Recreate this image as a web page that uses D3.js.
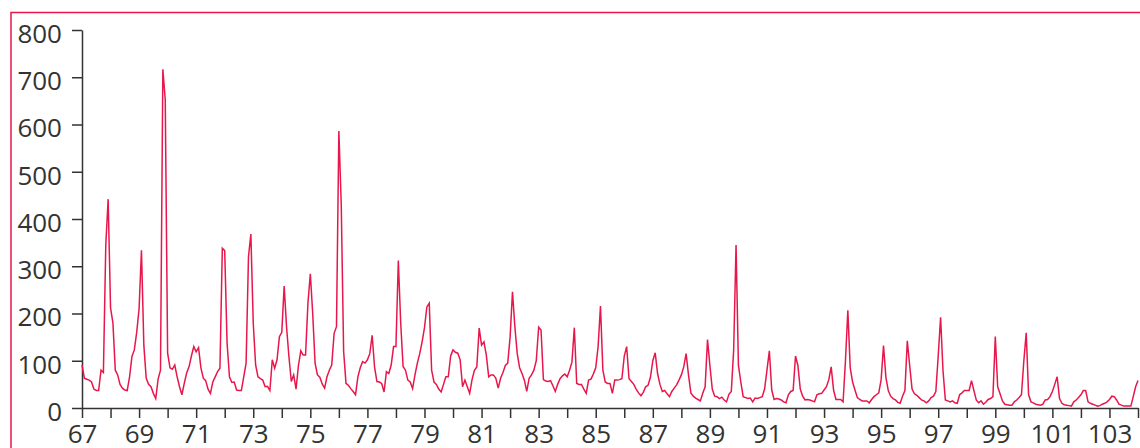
<!DOCTYPE html>
<html>
<head>
<meta charset="utf-8">
<style>
  html, body { margin: 0; padding: 0; background: #fff; }
  svg { display: block; }
  .axis text { font-family: "Open Sans", sans-serif; font-size: 26px; fill: #333; }
  .axis path, .axis line { stroke: #333; stroke-width: 1.5; }
</style>
<script src="https://cdn.jsdelivr.net/npm/d3@7"></script>
</head>
<body>
<svg id="chart" width="1140" height="448"></svg>
<script>
// monthly values, first point at year 67.0
const startYear = 67;
const monthsPerYear = 12;

const counts67to76 = [
  91, 63, 61, 59, 55, 40, 37, 37, 80, 75, 345, 442,
  212, 180, 80, 70, 50, 42, 38, 37, 66, 109, 123, 160,
  210, 334, 133, 63, 50, 45, 31, 20, 61, 80, 717, 652,
  116, 85, 82, 91, 66, 45, 28, 52, 74, 87, 110, 130,
  119, 128, 85, 63, 58, 40, 31, 55, 66, 77, 84, 338,
  333, 137, 66, 54, 55, 38, 37, 37, 66, 95, 320, 368,
  180, 91, 66, 62, 59, 45, 46, 37, 102, 84, 102, 151,
  160, 258, 172, 109, 56, 70, 40, 90, 121, 112, 112, 222,
  284, 200, 95, 70, 65, 51, 42, 66, 80, 91, 158, 172,
  586, 430, 120, 52, 48, 41, 35, 28, 66, 85, 98, 95
];
const counts77to86 = [
  102, 115, 154, 87, 56, 55, 52, 34, 77, 73, 91, 130,
  130, 312, 180, 88, 80, 59, 55, 41, 70, 95, 115, 140,
  170, 214, 222, 80, 55, 50, 40, 34, 50, 66, 66, 110,
  123, 118, 116, 102, 45, 59, 45, 31, 60, 80, 87, 169,
  133, 140, 112, 66, 70, 70, 63, 42, 63, 75, 90, 95,
  150, 246, 172, 115, 85, 73, 59, 35, 63, 70, 80, 100,
  171, 165, 60, 57, 56, 58, 47, 35, 50, 62, 68, 72,
  66, 80, 97, 170, 52, 50, 50, 40, 31, 59, 61, 72,
  85, 130, 216, 80, 55, 52, 52, 31, 59, 59, 60, 62,
  110, 130, 62, 56, 50, 40, 32, 26, 33, 45, 48, 65
];
const counts87to96 = [
  100, 117, 73, 50, 35, 37, 30, 24, 35, 42, 49, 59,
  70, 87, 115, 70, 32, 25, 21, 18, 15, 31, 45, 145,
  90, 40, 25, 24, 20, 23, 17, 13, 29, 35, 123, 345,
  90, 55, 24, 22, 20, 21, 13, 21, 20, 22, 24, 40,
  80, 121, 38, 18, 20, 19, 17, 13, 11, 28, 35, 37,
  110, 90, 40, 25, 17, 18, 17, 15, 13, 28, 30, 31,
  38, 45, 60, 87, 38, 18, 18, 18, 13, 100, 207, 85,
  55, 38, 22, 18, 15, 15, 15, 11, 18, 24, 28, 32,
  60, 132, 65, 37, 25, 20, 17, 12, 10, 25, 37, 142,
  90, 40, 30, 27, 22, 17, 15, 11, 15, 22, 25, 35
];
const counts97to104 = [
  110, 192, 80, 17, 15, 13, 15, 11, 10, 28, 32, 37,
  37, 37, 58, 37, 17, 11, 15, 8, 12, 18, 20, 24,
  151, 45, 30, 15, 8, 7, 6, 6, 13, 17, 22, 28,
  100, 159, 28, 13, 11, 8, 7, 6, 8, 17, 18, 24,
  35, 50, 66, 20, 10, 7, 6, 5, 4, 13, 17, 22,
  28, 37, 37, 13, 10, 8, 6, 4, 5, 8, 10, 13,
  18, 25, 24, 17, 8, 6, 4, 4, 4, 4, 24, 45,
  58
];

const tickYears = [67, 68, 69, 70, 71, 72, 73, 74, 75, 76, 77, 78, 79, 80, 81, 82, 83, 84, 85,
  86, 87, 88, 89, 90, 91, 92, 93, 94, 95, 96, 97, 98, 99, 100, 101, 102, 103, 104];
const labelYears = [67, 69, 71, 73, 75, 77, 79, 81, 83, 85, 87, 89, 91, 93, 95, 97, 99, 101, 103];
const yTicks = [0, 100, 200, 300, 400, 500, 600, 700, 800];

const values = counts67to76.concat(counts77to86, counts87to96, counts97to104);

const red = "#e8174b";
const svg = d3.select("#chart");

svg.append("rect")
  .attr("x", 11)
  .attr("y", 12.5)
  .attr("width", 1300)
  .attr("height", 600)
  .attr("fill", "none")
  .attr("stroke", red)
  .attr("stroke-width", 1.5);

const x = d3.scaleLinear().domain([67, 104]).range([0, 1056]);
const y = d3.scaleLinear().domain([0, 800]).range([378, 0]);

const g = svg.append("g").attr("transform", "translate(82,30)");

g.append("g")
  .attr("class", "axis")
  .call(d3.axisLeft(y).tickValues(yTicks).tickSize(10).tickSizeOuter(0).tickPadding(10))
  .selectAll("text")
  .attr("dy", "0.48em");

g.append("g")
  .attr("class", "axis")
  .attr("transform", "translate(0,378)")
  .call(d3.axisBottom(x)
    .tickValues(tickYears)
    .tickSize(10)
    .tickSizeOuter(0)
    .tickPadding(7)
    .tickFormat(d => labelYears.includes(d) ? d : ""));

const line = d3.line()
  .x((d, i) => x(startYear + i / monthsPerYear))
  .y(d => y(d));

g.append("path")
  .datum(values)
  .attr("fill", "none")
  .attr("stroke", red)
  .attr("stroke-width", 1.5)
  .attr("d", line);
</script>
</body>
</html>
